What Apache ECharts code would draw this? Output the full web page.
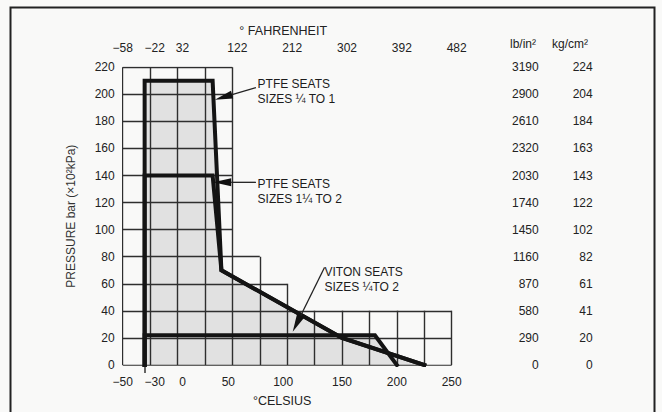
<!DOCTYPE html>
<html>
<head>
<meta charset="utf-8">
<script src="https://cdn.jsdelivr.net/npm/echarts@6/dist/echarts.min.js"></script>
<style>
  html, body { margin: 0; padding: 0; background: #f9f9f8; }
  #chart { width: 662px; height: 412px; }
</style>
</head>
<body>
<div id="chart"></div>
<script>
// ---- data ----
const celsiusTicks = [-50, -30, 0, 50, 100, 150, 200, 250];
const celsiusLabels = ['\u221250', '\u221230', '0', '50', '100', '150', '200', '250'];
const fahrenheitLabels = ['\u221258', '\u221222', '32', '122', '212', '302', '392', '482'];
const barTicks = [0, 20, 40, 60, 80, 100, 120, 140, 160, 180, 200, 220];
const psiLabels = ['0', '290', '580', '870', '1160', '1450', '1740', '2030', '2320', '2610', '2900', '3190'];
const kgLabels = ['0', '20', '41', '61', '82', '102', '122', '143', '163', '184', '204', '224'];

// stepped grid: each block reaches up to stepTops[i] bar and right to stepRights[i] °C
const stepTops = [40, 60, 80, 220];
const stepRights = [250, 100, 75, 50];
const gridXStep = 25;
const gridYStep = 20;

// curves (°C, bar)
const ptfeSmallX = [-30, -30, 32, 40, 150, 225];
const ptfeSmallY = [0, 210, 210, 70, 20, 0];
const ptfeLargeX = [-30, -30, 32, 40, 150, 225];
const ptfeLargeY = [0, 140, 140, 70, 20, 0];
const vitonX = [-30, -30, 180, 200];
const vitonY = [0, 22, 22, 0];

// annotations
const noteLabels = ['PTFE SEATS\nSIZES \u00bc TO 1', 'PTFE SEATS\nSIZES 1\u00bc TO 2', 'VITON SEATS\nSIZES \u00bcTO 2'];
const noteTextX = [73, 73, 134];
const noteTextY = [202, 128.5, 63.5];
const noteStartX = [71.5, 71.5, 134];
const noteStartY = [205, 135, 72];
const noteTipX = [34, 32.5, 105];
const noteTipY = [196, 135, 24.5];

// ---- build ----
const zip = (xs, ys) => xs.map((x, i) => [x, ys[i]]);
const xMin = -50, xMax = 250, yMin = 0, yMax = 220;

const gridSegs = [];
for (let y = yMin; y <= yMax; y += gridYStep) {
  let r = -Infinity;
  stepTops.forEach((t, i) => { if (t >= y) r = Math.max(r, stepRights[i]); });
  gridSegs.push({ coords: [[xMin, y], [r, y]] });
}
for (let x = xMin; x <= xMax; x += gridXStep) {
  let t = -Infinity;
  stepRights.forEach((r, i) => { if (r >= x) t = Math.max(t, stepTops[i]); });
  gridSegs.push({ coords: [[x, yMin], [x, t]] });
}

const curves = [zip(ptfeSmallX, ptfeSmallY), zip(ptfeLargeX, ptfeLargeY), zip(vitonX, vitonY)];
const noteData = noteLabels.map((_, i) => [noteStartX[i], noteStartY[i], noteTipX[i], noteTipY[i], noteTextX[i], noteTextY[i], i]);

const FONT = '"Liberation Sans", Arial, Helvetica, sans-serif';
const labelStyle = { color: '#222', fontSize: 12, fontFamily: FONT };

// small typesetting nudges of the printed scale labels (rich-text padding)
const nudgeRich = {
  n0: { padding: [0, 0, 0, 0] },
  n5: { padding: [0, 0, 0, 10] },
  n10: { padding: [0, 0, 0, 20] },
  m4: { padding: [0, 8, 0, 0] }
};
function nudged(text, v, top) {
  if (v === -30) return '{n10|' + text + '}';
  if (v === 0) return '{n5|' + text + '}';
  if (!top && (v === 50 || v === 100)) return '{m4|' + text + '}';
  if (top && v > 0) return '{n5|' + text + '}';
  return '{n0|' + text + '}';
}

const series = [];
curves.forEach(c => series.push({
  type: 'line', data: c, symbol: 'none', z: 1, silent: true,
  lineStyle: { width: 0, opacity: 0 },
  areaStyle: { color: '#e1e1e1', opacity: 1 }
}));
series.push({
  type: 'lines', coordinateSystem: 'cartesian2d', data: gridSegs, z: 2, silent: true,
  lineStyle: { color: '#2e2e2e', width: 1.4, opacity: 1 }
});
curves.forEach(c => series.push({
  type: 'line', data: c, symbol: 'none', z: 3, silent: true,
  lineStyle: { color: '#141414', width: 4, join: 'miter', cap: 'square' }
}));
series.push({
  type: 'custom', z: 4, clip: false, silent: true, data: noteData,
  renderItem: function (params, api) {
    const s = api.coord([api.value(0), api.value(1)]);
    const t = api.coord([api.value(2), api.value(3)]);
    const p = api.coord([api.value(4), api.value(5)]);
    const dx = t[0] - s[0], dy = t[1] - s[1];
    const L = Math.sqrt(dx * dx + dy * dy) || 1;
    const ux = dx / L, uy = dy / L;
    const al = 18, aw = 4;
    const bx = t[0] - ux * al, by = t[1] - uy * al;
    const px = -uy * aw, py = ux * aw;
    return {
      type: 'group',
      children: [
        { type: 'line', shape: { x1: s[0], y1: s[1], x2: bx, y2: by }, style: { stroke: '#222', lineWidth: 1.3 } },
        { type: 'polygon', shape: { points: [[t[0], t[1]], [bx + px, by + py], [bx - px, by - py]] }, style: { fill: '#111' } },
        { type: 'text', x: p[0], y: p[1], style: {
            text: noteLabels[api.value(6)], fill: '#1c1c1c', font: '12px ' + FONT,
            textAlign: 'left', textVerticalAlign: 'middle', lineHeight: 15 } }
      ]
    };
  }
});

const chart = echarts.init(document.getElementById('chart'), null, { renderer: 'svg' });
chart.setOption({
  backgroundColor: '#f9f9f8',
  animation: false,
  grid: { left: 122.7, right: 210.3, top: 67.3, bottom: 45.3 },
  xAxis: [
    {
      type: 'value', position: 'bottom', min: xMin, max: xMax,
      name: '\u00b0CELSIUS', nameLocation: 'middle', nameGap: 29,
      nameTextStyle: Object.assign({}, labelStyle, { fontSize: 12.5, padding: [0, 10, 0, 0] }),
      axisLine: { show: false }, splitLine: { show: false },
      axisTick: { show: true, customValues: [-30], length: 8, lineStyle: { color: '#333', width: 1.5 } },
      axisLabel: Object.assign({}, labelStyle, {
        customValues: celsiusTicks, margin: 11, rich: nudgeRich,
        formatter: v => { const i = celsiusTicks.indexOf(v); return i >= 0 ? nudged(celsiusLabels[i], v, false) : ''; }
      })
    },
    {
      type: 'value', position: 'top', min: xMin, max: xMax,
      name: '\u00b0 FAHRENHEIT', nameLocation: 'middle', nameGap: 30,
      nameTextStyle: Object.assign({}, labelStyle, { fontSize: 12.5, padding: [0, 8, 0, 0] }),
      axisLine: { show: false }, splitLine: { show: false },
      axisTick: { show: true, customValues: [-30], length: 11, lineStyle: { color: '#333', width: 1.2 } },
      axisLabel: Object.assign({}, labelStyle, {
        customValues: celsiusTicks, margin: 13, rich: nudgeRich,
        formatter: v => { const i = celsiusTicks.indexOf(v); return i >= 0 ? nudged(fahrenheitLabels[i], v, true) : ''; }
      })
    }
  ],
  yAxis: [
    {
      type: 'value', position: 'left', min: yMin, max: yMax, interval: 20,
      name: 'PRESSURE bar (\u00d710\u00b2kPa)', nameLocation: 'middle', nameGap: 46,
      nameTextStyle: Object.assign({}, labelStyle, { fontSize: 12, color: '#333' }),
      axisLine: { show: false }, splitLine: { show: false },
      axisTick: { show: true, customValues: [120], length: 5, lineStyle: { color: '#333', width: 1.2 } },
      axisLabel: Object.assign({}, labelStyle, { customValues: barTicks, margin: 8 })
    },
    {
      type: 'value', position: 'right', min: yMin, max: yMax, interval: 20,
      axisLine: { show: false }, splitLine: { show: false }, axisTick: { show: false },
      axisLabel: Object.assign({}, labelStyle, {
        customValues: barTicks, margin: 87, align: 'right',
        formatter: v => psiLabels[barTicks.indexOf(v)] || ''
      })
    },
    {
      type: 'value', position: 'right', min: yMin, max: yMax, interval: 20,
      axisLine: { show: false }, splitLine: { show: false }, axisTick: { show: false },
      axisLabel: Object.assign({}, labelStyle, {
        customValues: barTicks, margin: 141, align: 'right',
        formatter: v => kgLabels[barTicks.indexOf(v)] || ''
      })
    }
  ],
  graphic: [
    { type: 'rect', shape: { x: 10.5, y: 7.5, width: 644, height: 420 }, style: { fill: 'none', stroke: '#222', lineWidth: 2 }, silent: true },
    { type: 'text', x: 523, y: 44, style: { text: 'lb/in\u00b2', fill: '#222', font: '12px ' + FONT, textAlign: 'center', textVerticalAlign: 'middle' } },
    { type: 'text', x: 570, y: 44, style: { text: 'kg/cm\u00b2', fill: '#222', font: '12px ' + FONT, textAlign: 'center', textVerticalAlign: 'middle' } }
  ],
  series: series
});
</script>
</body>
</html>
